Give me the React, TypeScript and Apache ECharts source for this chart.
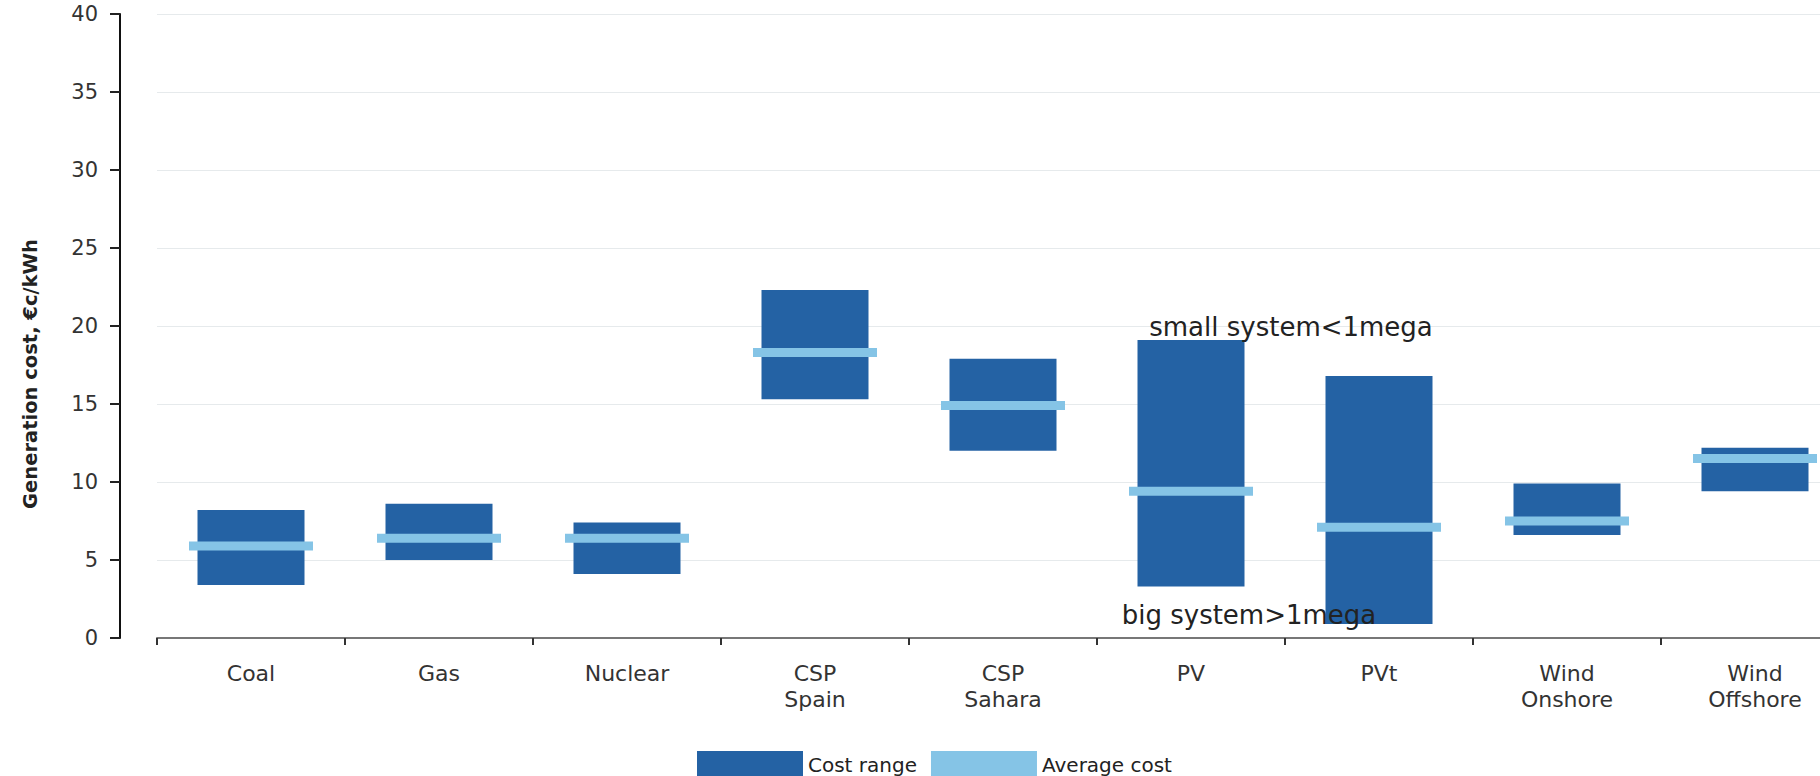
import React, { useEffect, useRef } from "react";
import * as echarts from "echarts";

const categories = ["Coal", "Gas", "Nuclear", "CSP\nSpain", "CSP\nSahara", "PV", "PVt", "Wind\nOnshore", "Wind\nOffshore"];
const lowCost = [3.4, 5.0, 4.1, 15.3, 12.0, 3.3, 0.9, 6.6, 9.4];
const highCost = [8.2, 8.6, 7.4, 22.3, 17.9, 19.1, 16.8, 9.9, 12.2];
const averageCost = [5.9, 6.4, 6.4, 18.3, 14.9, 9.4, 7.1, 7.5, 11.5];
const seriesNames = ["Cost range", "Average cost"];
const yAxisTitle = "Generation cost, €c/kWh";
const annotatedCategory = "PV";
const annotationTop = "small system<1mega";
const annotationBottom = "big system>1mega";

const FONT = "DejaVu Sans";
const DARK = "#2462a4";
const LIGHT = "#85c4e6";

export default function App() {
  const ref = useRef<HTMLDivElement>(null);

  useEffect(() => {
    if (!ref.current) return;
    const chart = echarts.init(ref.current, undefined, { renderer: "svg" });
    const annotatedIndex = categories.indexOf(annotatedCategory);

    const baseData = lowCost.map((v, i) =>
      i === annotatedIndex
        ? {
            value: v,
            label: {
              show: true,
              position: "insideTop",
              distance: 15,
              offset: [58, 0],
              formatter: annotationBottom,
              fontFamily: FONT,
              fontSize: 26,
              lineHeight: 26,
              color: "#222",
            },
          }
        : v
    );
    const rangeData = highCost.map((h, i) => {
      const v = +(h - lowCost[i]).toFixed(2);
      return i === annotatedIndex
        ? {
            value: v,
            label: {
              show: true,
              position: "top",
              distance: 0,
              offset: [100, 0],
              formatter: annotationTop,
              fontFamily: FONT,
              fontSize: 26,
              lineHeight: 26,
              color: "#222",
            },
          }
        : v;
    });

    chart.setOption({
      animation: false,
      backgroundColor: "#ffffff",
      textStyle: { fontFamily: FONT },
      grid: {
        left: 157,
        width: 1692,
        top: 14,
        bottom: 138,
        containLabel: false,
        outerBoundsMode: "none",
      },
      legend: {
        left: 692,
        top: 746,
        itemWidth: 106,
        itemHeight: 28,
        itemGap: 14,
        selectedMode: false,
        textStyle: { fontFamily: FONT, fontSize: 20, lineHeight: 20, color: "#222" },
        data: [
          { name: seriesNames[0], icon: "rect" },
          { name: seriesNames[1], icon: "rect" },
        ],
      },
      xAxis: {
        type: "category",
        data: categories,
        boundaryGap: true,
        axisLine: { show: true, lineStyle: { color: "#777", width: 2 } },
        axisTick: { show: true, length: 7, lineStyle: { color: "#333", width: 2 } },
        axisLabel: {
          margin: 22,
          fontFamily: FONT,
          fontSize: 22,
          lineHeight: 26,
          color: "#333",
          interval: 0,
        },
        splitLine: { show: false },
      },
      yAxis: {
        type: "value",
        min: 0,
        max: 40,
        interval: 5,
        offset: 37,
        name: yAxisTitle,
        nameLocation: "middle",
        nameGap: 80,
        nameTextStyle: {
          fontFamily: FONT,
          fontSize: 19.5,
          fontWeight: "bold",
          color: "#222",
          padding: [0, 96, 0, 0],
        },
        axisLine: { show: true, lineStyle: { color: "#111", width: 2 } },
        axisTick: { show: true, length: 10, lineStyle: { color: "#222", width: 2 } },
        axisLabel: { margin: 22, fontFamily: FONT, fontSize: 21, color: "#333" },
        splitLine: { show: true, lineStyle: { color: "#e6eaec", width: 1 } },
      },
      series: [
        {
          name: "base",
          type: "bar",
          stack: "range",
          barWidth: 107,
          z: 3,
          itemStyle: { color: "transparent" },
          emphasis: { disabled: true },
          data: baseData,
        },
        {
          name: seriesNames[0],
          type: "bar",
          stack: "range",
          barWidth: 107,
          z: 2,
          itemStyle: { color: DARK },
          emphasis: { disabled: true },
          data: rangeData,
        },
        {
          name: seriesNames[1],
          type: "scatter",
          symbol: "rect",
          symbolSize: [124, 9],
          z: 4,
          itemStyle: { color: LIGHT, opacity: 1 },
          emphasis: { disabled: true },
          data: averageCost,
        },
      ],
    });

    return () => chart.dispose();
  }, []);

  return (
    <div
      ref={ref}
      style={{ position: "absolute", left: 0, top: 0, width: 1820, height: 776, background: "#fff" }}
    />
  );
}
